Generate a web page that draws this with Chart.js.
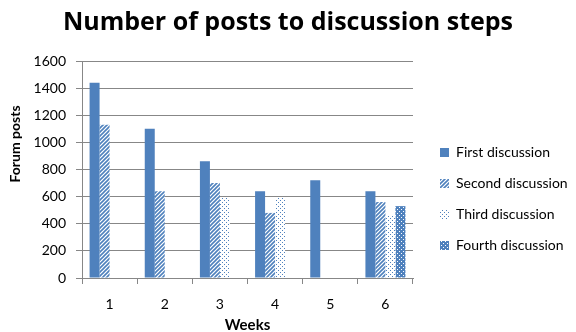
<!DOCTYPE html>
<html>
<head>
<meta charset="utf-8">
<script src="https://cdn.jsdelivr.net/npm/chart.js@4.4.1/dist/chart.umd.min.js"></script>
<style>
  html, body { margin: 0; padding: 0; background: #fff; }
  #wrap { width: 576px; height: 332px; }
</style>
</head>
<body>
<div id="wrap"><canvas id="chart"></canvas></div>
<script>
const weeks = ['1', '2', '3', '4', '5', '6'];
const seriesNames = ['First discussion', 'Second discussion', 'Third discussion', 'Fourth discussion'];
const firstPosts = [1440, 1100, 860, 640, 720, 640];
const secondPosts = [1130, 640, 700, 480, null, 560];
const thirdPosts = [null, null, 590, 590, null, 460];
const fourthPosts = [null, null, null, null, null, 530];

const blue = '#4F81BD';
const gridGray = '#878787';
const fontName = 'Lato, "Open Sans", sans-serif';

function makeTile(size, draw) {
    const c = document.createElement('canvas');
    c.width = size;
    c.height = size;
    const g = c.getContext('2d');
    draw(g);
    return g.createPattern(c, 'repeat');
}

// wide upward diagonal
const hatchPattern = makeTile(4, g => {
    g.fillStyle = '#fff';
    g.fillRect(0, 0, 4, 4);
    g.strokeStyle = blue;
    g.lineWidth = 1.6;
    g.beginPath();
    g.moveTo(-1, 5); g.lineTo(5, -1);
    g.moveTo(-3, 3); g.lineTo(3, -3);
    g.moveTo(1, 7); g.lineTo(7, 1);
    g.stroke();
});

// sparse dots
const dotPattern = makeTile(4, g => {
    g.fillStyle = '#fff';
    g.fillRect(0, 0, 4, 4);
    g.fillStyle = blue;
    g.fillRect(0, 0, 1, 1);
    g.fillRect(2, 2, 1, 1);
});

// dense check (blue with white dots)
const checkPattern = makeTile(4, g => {
    g.fillStyle = blue;
    g.fillRect(0, 0, 4, 4);
    g.fillStyle = '#fff';
    g.fillRect(1, 1, 1, 1);
    g.fillRect(3, 3, 1, 1);
});

const ctx = document.getElementById('chart').getContext('2d');
const chart = new Chart(ctx, {
    type: 'bar',
    data: {
        labels: weeks,
        datasets: [
            {label: seriesNames[0], data: firstPosts, backgroundColor: blue},
            {label: seriesNames[1], data: secondPosts, backgroundColor: hatchPattern},
            {label: seriesNames[2], data: thirdPosts, backgroundColor: dotPattern},
            {label: seriesNames[3], data: fourthPosts, backgroundColor: checkPattern},
        ].map(d => Object.assign(d, {
            borderWidth: 0,
            borderColor: 'rgba(0,0,0,0)',
            categoryPercentage: 0.725,
            barPercentage: 1.0,
        })),
    },
    options: {
        responsive: true,
        maintainAspectRatio: false,
        animation: false,
        layout: {padding: {left: 0, right: 0, top: 0, bottom: 0}},
        plugins: {
            title: {
                display: true,
                text: 'Number of posts to discussion steps',
                color: '#000',
                font: {family: '"Open Sans", Lato, sans-serif', size: 25, weight: 'bold'},
                padding: {top: 8, bottom: 23},
            },
            legend: {
                position: 'right',
                maxWidth: 153,
                title: {
                    display: true,
                    text: '',
                    font: {size: 10},
                    padding: {top: 54, bottom: 0},
                },
                labels: {
                    boxWidth: 9,
                    boxHeight: 9,
                    padding: 17,
                    color: '#000',
                    font: {family: fontName, size: 14},
                },
            },
            tooltip: {enabled: false},
        },
        scales: {
            x: {
                grid: {
                    drawOnChartArea: false,
                    drawTicks: true,
                    tickLength: 6,
                    color: gridGray,
                },
                border: {color: gridGray},
                ticks: {
                    color: '#000',
                    padding: 12,
                    font: {family: fontName, size: 14},
                },
                title: {
                    display: true,
                    text: 'Weeks',
                    color: '#000',
                    font: {family: fontName, size: 15, weight: 'bold'},
                    padding: {top: 4, bottom: -2},
                },
                afterFit: scale => { scale.height = 54; },
            },
            y: {
                min: 0,
                max: 1600,
                ticks: {
                    stepSize: 200,
                    color: '#000',
                    padding: 10,
                    font: {family: fontName, size: 14},
                    callback: value => String(value),
                },
                grid: {
                    color: gridGray,
                    tickLength: 6,
                },
                border: {color: gridGray},
                title: {
                    display: true,
                    // leading spaces lift the label the way the original sits above centre
                    text: '               Forum posts',
                    color: '#000',
                    font: {family: fontName, size: 14, weight: 'bold'},
                    padding: {top: 7, bottom: 0},
                },
                afterFit: scale => { scale.width = 82; },
            },
            y2: {
                position: 'right',
                display: true,
                grid: {display: false},
                border: {display: false},
                ticks: {display: false},
                afterFit: scale => { scale.width = 10; },
            },
        },
    },
});
</script>
</body>
</html>
